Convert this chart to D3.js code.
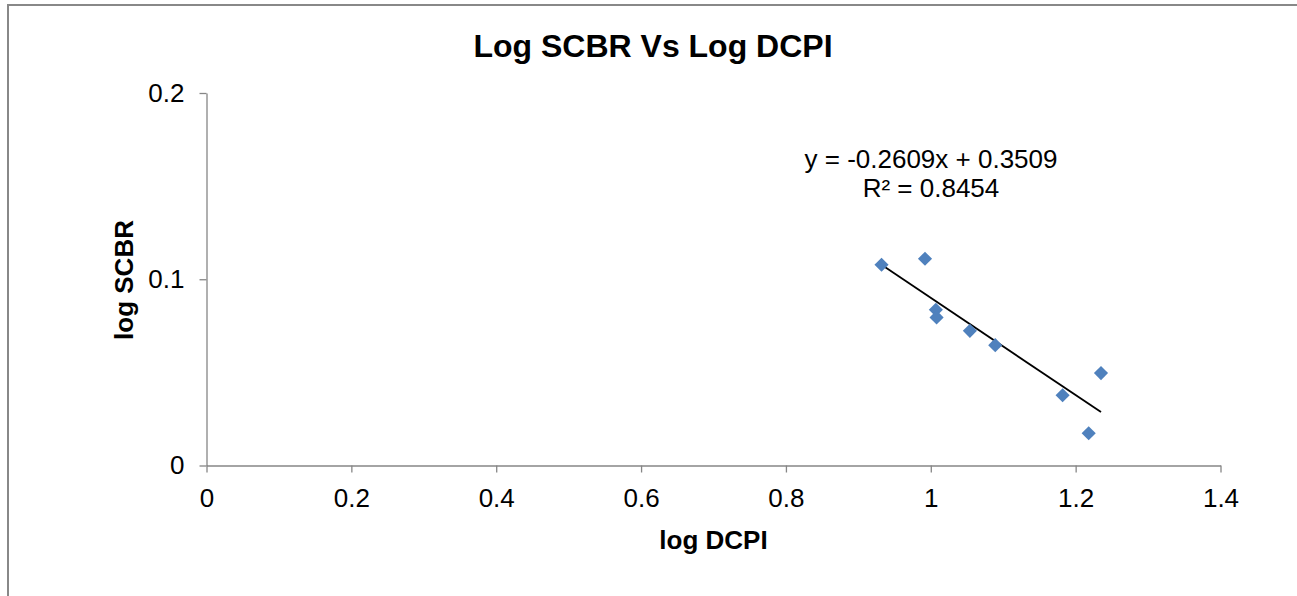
<!DOCTYPE html>
<html>
<head>
<meta charset="utf-8">
<script src="https://cdn.jsdelivr.net/npm/d3@7"></script>
<style>
  html, body { margin: 0; padding: 0; background: #fff; }
  svg { display: block; font-family: "Liberation Sans", Arial, sans-serif; }
</style>
</head>
<body>
<svg id="chart" width="1297" height="596"></svg>
<script>
// ---- data ----
const logDCPI = [0.932, 0.992, 1.007, 1.008, 1.054, 1.089, 1.182, 1.235, 1.218];
const logSCBR = [0.1078, 0.1110, 0.0836, 0.0795, 0.0723, 0.0646, 0.0377, 0.0496, 0.0173];
const xTicks = [0, 0.2, 0.4, 0.6, 0.8, 1, 1.2, 1.4];
const yTicks = [0, 0.1, 0.2];
const trendSlope = -0.2609;
const trendIntercept = 0.3509;
const equationLines = ["y = -0.2609x + 0.3509", "R\u00B2 = 0.8454"];
const chartTitle = "Log SCBR Vs Log DCPI";
const xTitle = "log DCPI";
const yTitle = "log SCBR";

// ---- layout ----
const svg = d3.select("#chart");
const W = 1297, H = 596;
const plot = { left: 206.5, right: 1220.5, top: 93, bottom: 465.5 };

const x = d3.scaleLinear().domain([0, 1.4]).range([plot.left, plot.right]);
const y = d3.scaleLinear().domain([0, 0.2]).range([plot.bottom, plot.top]);

// outer border (partially visible frame)
svg.append("path")
  .attr("d", `M8,${H + 2} L8,5 L${W + 2},5`)
  .attr("fill", "none")
  .attr("stroke", "#888888")
  .attr("stroke-width", 2);

const axisColor = "#868686";

// y axis
const yAxis = svg.append("g")
  .attr("transform", `translate(${plot.left},0)`)
  .call(d3.axisLeft(y).tickValues(yTicks).tickSize(7).tickSizeOuter(0).tickPadding(15)
    .tickFormat(d => d3.format("~g")(d)));
// x axis
const xAxis = svg.append("g")
  .attr("transform", `translate(0,${plot.bottom})`)
  .call(d3.axisBottom(x).tickValues(xTicks).tickSize(7).tickSizeOuter(0).tickPadding(16)
    .tickFormat(d => d3.format("~g")(d)));

[xAxis, yAxis].forEach(g => {
  g.select(".domain").attr("stroke", axisColor).attr("stroke-width", 1.3);
  g.selectAll(".tick line").attr("stroke", axisColor).attr("stroke-width", 1.3);
  g.selectAll(".tick text").attr("fill", "#000").attr("font-size", 26)
    .attr("font-family", "'Liberation Sans', Arial, sans-serif");
});

// trendline
const xMin = d3.min(logDCPI), xMax = d3.max(logDCPI);
svg.append("line")
  .attr("x1", x(xMin)).attr("y1", y(trendSlope * xMin + trendIntercept))
  .attr("x2", x(xMax)).attr("y2", y(trendSlope * xMax + trendIntercept))
  .attr("stroke", "#000").attr("stroke-width", 1.8);

// points (diamonds)
const sym = d3.symbol().type(d3.symbolSquare).size(100);
svg.append("g").selectAll("path")
  .data(logDCPI.map((v, i) => [v, logSCBR[i]]))
  .join("path")
  .attr("d", sym)
  .attr("transform", d => `translate(${x(d[0])},${y(d[1])}) rotate(45)`)
  .attr("fill", "#4F81BD");

// title
svg.append("text")
  .attr("x", 653).attr("y", 57)
  .attr("text-anchor", "middle")
  .attr("font-weight", "bold").attr("font-size", 32)
  .text(chartTitle);

// axis titles
svg.append("text")
  .attr("x", (plot.left + plot.right) / 2).attr("y", 549)
  .attr("text-anchor", "middle")
  .attr("font-weight", "bold").attr("font-size", 26)
  .text(xTitle);

svg.append("text")
  .attr("transform", `translate(133,280) rotate(-90)`)
  .attr("text-anchor", "middle")
  .attr("font-weight", "bold").attr("font-size", 26)
  .text(yTitle);

// equation label
svg.append("g").selectAll("text")
  .data(equationLines)
  .join("text")
  .attr("x", 931)
  .attr("y", (d, i) => 168 + i * 29)
  .attr("text-anchor", "middle")
  .attr("font-size", 26)
  .text(d => d);
</script>
</body>
</html>
